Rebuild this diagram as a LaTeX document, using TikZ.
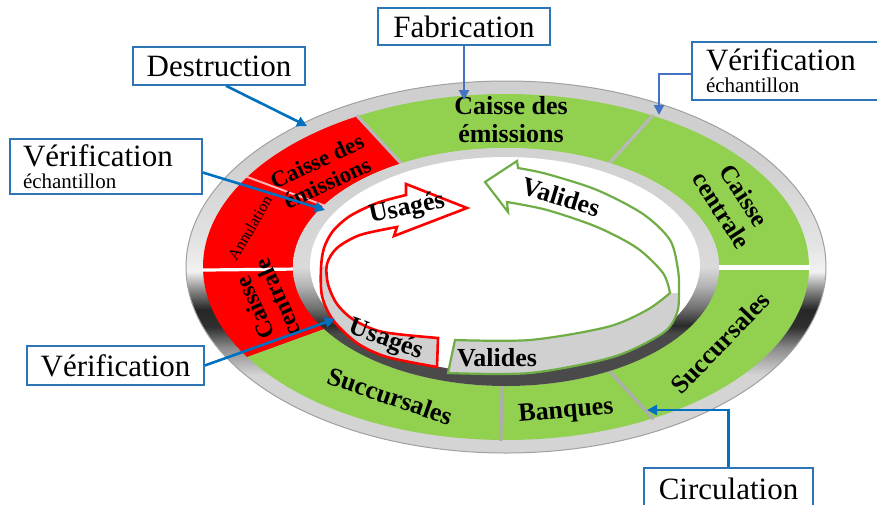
\documentclass[tikz,border=0pt]{standalone}
\usepackage{fontspec}
\setmainfont{Liberation Serif}
\usetikzlibrary{calc,arrows.meta}
\definecolor{bandgreen}{HTML}{92D050}
\definecolor{bandred}{HTML}{FF0000}
\definecolor{ribgreen}{HTML}{70AD47}
\definecolor{facegray}{HTML}{D0D0D0}
\definecolor{boxblue}{HTML}{2E75B6}
\definecolor{arrblue}{HTML}{0070C0}
\definecolor{arrblueb}{HTML}{4472C4}
\definecolor{sepgray}{HTML}{B8B8B8}
\definecolor{ro1}{HTML}{D4D4D4}
\definecolor{ro2}{HTML}{C0C0C0}
\definecolor{ro3}{HTML}{8A8A8A}
\definecolor{ro4}{HTML}{303030}
\definecolor{ro5}{HTML}{262626}
\definecolor{ro6}{HTML}{8C8C8C}
\definecolor{ro7}{HTML}{F2F2F2}
\definecolor{ro8}{HTML}{E4E4E4}
\definecolor{ro9}{HTML}{CFCFCF}
\definecolor{rline}{HTML}{A0A0A0}
\definecolor{ri1}{HTML}{4A4A4A}
\definecolor{ri2}{HTML}{2A2A2A}
\definecolor{ri3}{HTML}{707070}
\definecolor{ri4}{HTML}{B4B4B4}
\definecolor{ri5}{HTML}{DADADA}
\definecolor{ri6}{HTML}{D2D2D2}
\pgfdeclareverticalshading{outerring}{100bp}{color(0bp)=(ro1); color(35.5bp)=(ro1); color(36.5bp)=(ro2); color(39.2bp)=(ro3); color(41.9bp)=(ro4); color(44.3bp)=(ro5); color(47bp)=(ro6); color(49.4bp)=(ro7); color(52.9bp)=(ro8); color(64.5bp)=(ro9); color(100bp)=(ro9)}
\pgfdeclareverticalshading{innerring}{100bp}{color(0bp)=(ri1); color(36bp)=(ri1); color(37.7bp)=(ri2); color(41.4bp)=(ri3); color(46.1bp)=(ri4); color(50bp)=(ri5); color(64bp)=(ri6); color(100bp)=(ri6)}
\newcommand\myfs[2]{\fontsize{#1pt}{#2pt}\selectfont}
\newcommand\bandseg[3]{\fill[#3] ($(506,267)+(#1:303 and 173)$) arc[start angle=#1,end angle=#2,x radius=303,y radius=173] -- ($(506,267)+(#2:213 and 119)$) arc[start angle=#2,end angle=#1,x radius=213,y radius=119] -- cycle;}
\newcommand\bandsep[2]{\draw[#2] ($(506,267)+(#1:304 and 174)$) -- ($(506,267)+(#1:212 and 118)$);}
\newcommand\redribpath{(406,195) -- (406,184) -- (467,208) -- (394,236) -- (397,227) -- plot[smooth] coordinates {(397,227) (360,235) (337,248) (327,264) (328,284) (337,304) (354,320) (383,332) (438,338)} -- (437,367) -- plot[smooth] coordinates {(437,367) (387,357) (357,343) (333,320) (322,296) (321,268) (324,248) (333,231) (350,216) (377,203) (406,195)} -- cycle}
\newcommand\redribtop{(406,195) -- (406,184) -- (467,208) -- (394,236) -- (397,227) -- plot[smooth] coordinates {(397,227) (360,235) (337,248) (327,264)} -- (321,268) -- plot[smooth] coordinates {(321,268) (324,248) (333,231) (350,216) (377,203) (406,195)} -- cycle}
\newcommand\greenribpath{(518,168) -- (517,161) -- (485,182) -- (508,212) -- (507,202) -- plot[smooth] coordinates {(507,202) (547,210) (597,227) (637,248) (663,273) (670,293)} -- plot[smooth] coordinates {(670,293) (647,310) (607,327) (530,340) (455,340)} -- (448,373) -- plot[smooth] coordinates {(448,373) (530,373) (613,357) (663,333) (677,313) (679,293) (678,270) (670,240) (643,214) (597,190) (547,174) (518,168)} -- cycle}
\newcommand\greenribtop{(518,168) -- (517,161) -- (485,182) -- (508,212) -- (507,202) -- plot[smooth] coordinates {(507,202) (547,210) (597,227) (637,248) (663,273) (670,293)} -- (679,293) -- plot[smooth] coordinates {(679,293) (678,270) (670,240) (643,214) (597,190) (547,174) (518,168)} -- cycle}
\tikzset{
  lbl/.style={font=\myfs{13}{14}\bfseries, align=center, inner sep=0pt},
  riblbl/.style={font=\myfs{13}{14}\bfseries, inner sep=0pt},
  callout/.style={draw=boxblue, line width=0.8pt, fill=white, font=\myfs{15.5}{17}, inner ysep=0pt, inner xsep=0pt},
  callarrow/.style={line width=1.3pt, -{Triangle[length=5pt,width=5pt]}},
}
\begin{document}
\begin{tikzpicture}[x=0.5pt,y=-0.5pt]
\useasboundingbox (0,0) rectangle (877,504);
\fill[white] (0,0) rectangle (877,504);
% outer ring
\shade[shading=outerring] (506,267) ellipse [x radius=320, y radius=186];
\draw[rline, line width=0.5pt] (506,267) ellipse [x radius=320, y radius=186];
% band segments
\bandseg{-119.4}{-61}{bandgreen}
\bandseg{-61}{0}{bandgreen}
\bandseg{0}{61}{bandgreen}
\bandseg{61}{91}{bandgreen}
\bandseg{91}{148.7}{bandgreen}
\bandseg{148.7}{179}{bandred}
\bandseg{179}{211.3}{bandred}
\bandseg{211.3}{240.6}{bandred}
\bandsep{-119.4}{sepgray, line width=1.6pt}
\bandsep{-61}{sepgray, line width=1.6pt}
\bandsep{0}{white, line width=2.5pt}
\bandsep{61}{sepgray!80!gray, line width=1.6pt}
\bandsep{91}{sepgray!80!gray, line width=1.6pt}
\bandsep{179}{white, line width=1.6pt}
\bandsep{211.3}{white!70!red, line width=1pt}
% inner ring and white centre
\shade[shading=innerring] (506,267) ellipse [x radius=213, y radius=119];
\fill[white] (505,265) ellipse [x radius=195, y radius=108];
% band labels
\node[lbl] (lce) at (511,120) {Caisse des\\émissions};
\node[lbl, font=\myfs{12.5}{13.5}\bfseries, rotate=-57] (lcc) at (733,203) {Caisse\\centrale};
\node[lbl, rotate=46] (lsr) at (720,343) {Succursales};
\node[lbl, rotate=5] (lbq) at (566,412) {Banques};
\node[lbl, rotate=-19] (lsb) at (390,396) {Succursales};
\node[lbl, font=\myfs{12}{12.5}\bfseries, rotate=114] (lrc) at (266,303) {Caisse\\centrale};
\node[lbl, font=\myfs{8}{9}, rotate=60] (lan) at (250,228) {Annulation};
\node[lbl, font=\myfs{11.5}{12}\bfseries, rotate=25] (lre) at (322,172) {Caisse des\\émissions};
% ribbons
\fill[facegray] \redribpath;
\fill[white] \redribtop;
\draw[bandred, line width=1.3pt, line join=miter] \redribpath;
\fill[facegray] \greenribpath;
\fill[white] \greenribtop;
\draw[ribgreen, line width=1.1pt, line join=miter] \greenribpath;
\node[riblbl, rotate=12] (ru1) at (407,209) {Usagés};
\node[riblbl, rotate=-20] (ru2) at (386,340) {Usagés};
\node[riblbl, rotate=-17] (gv1) at (561,197) {Valides};
\node[riblbl] (gv2) at (497,358) {Valides};
% callouts
\node[callout, minimum width=86pt, minimum height=18.5pt] (fab) at (464,26.5) {Fabrication};
\node[callout, minimum width=86pt, minimum height=19pt] (destr) at (219,66) {Destruction};
\node[callout, minimum height=29pt, align=left, text width=85pt, inner xsep=7pt] (vtr) at (791,71) {Vérification\\[-6pt]\myfs{10.5}{12}échantillon};
\node[callout, minimum height=27.5pt, align=left, text width=83pt, inner xsep=6.5pt] (vl) at (106,166.5) {Vérification\\[-6pt]\myfs{10.5}{12}échantillon};
\node[callout, minimum width=88.5pt, minimum height=19.5pt] (vb) at (115.5,365.5) {Vérification};
\node[callout, minimum width=84.5pt, minimum height=21pt] (circ) at (728.5,489) {Circulation};
\coordinate (destrE) at (307,126);
\coordinate (fabE) at (464,100);
\coordinate (vtrE) at (659,115);
\coordinate (vlE) at (325,210);
\coordinate (vbE) at (335,319);
\coordinate (circE) at (647,410);
\draw[callarrow, arrblue] ([xshift=3.5pt]destr.south) -- (destrE);
\draw[callarrow, arrblueb] (fab.south) -- (fabE);
\draw[callarrow, arrblueb] ([yshift=-1.5pt]vtr.west) -| (vtrE);
\draw[callarrow, arrblue] ([yshift=-3pt]vl.east) -- (vlE);
\draw[callarrow, arrblue] (vb.east) -- (vbE);
\draw[callarrow, arrblue] (circ.north) |- (circE);
\end{tikzpicture}
\end{document}
